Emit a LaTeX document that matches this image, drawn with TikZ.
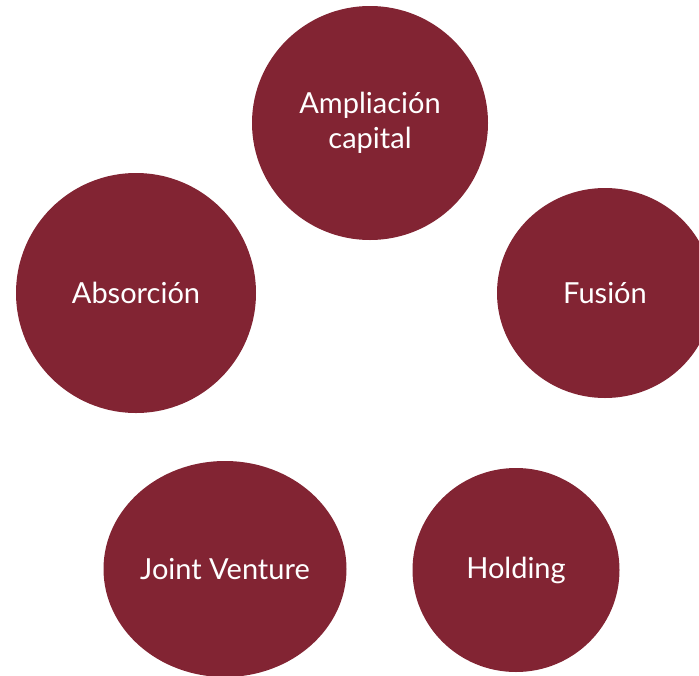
\documentclass[tikz,border=0pt]{standalone}
\usepackage{fontspec}
\setmainfont{Lato}
\usetikzlibrary{shapes.geometric}
\definecolor{burdeos}{HTML}{822433}
\begin{document}
\begin{tikzpicture}[
    x=1pt, y=-1pt,
    font=\fontsize{29}{35}\selectfont,
    blob/.style={ellipse, fill=burdeos, text=white, align=center, inner sep=0pt}
  ]
  \useasboundingbox (0,0) rectangle (699,675);
  \clip (0,0) rectangle (699,675);
  \node[blob, minimum width=236pt, minimum height=234pt] (capital) at (370,123) {Ampliación\\capital};
  \node[blob, minimum width=216pt, minimum height=210pt] (fusion) at (605,293) {Fusión};
  \node[blob, minimum width=240pt, minimum height=240pt] (absorcion) at (136,293) {Absorción};
  \node[blob, minimum width=243pt, minimum height=216pt] (joint) at (225,569) {Joint Venture};
  \node[blob, minimum width=207pt, minimum height=204pt] (holding) at (516,570) {Holding};
\end{tikzpicture}
\end{document}
